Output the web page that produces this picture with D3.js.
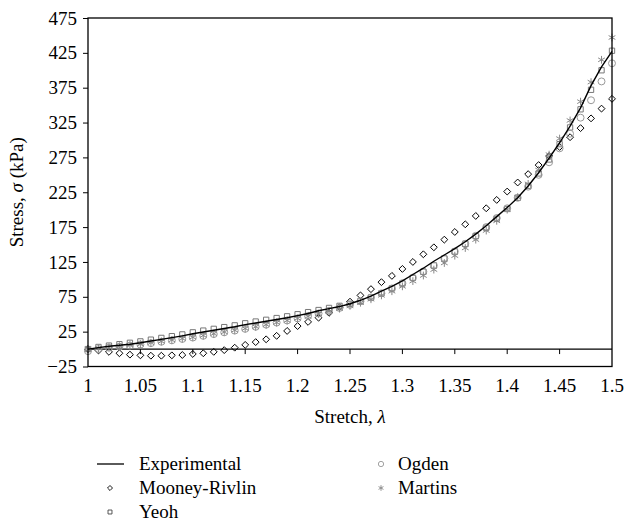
<!DOCTYPE html>
<html>
<head>
<meta charset="utf-8">
<script src="https://cdn.jsdelivr.net/npm/d3@7"></script>
<style>
  body { margin: 0; background: #fff; }
</style>
</head>
<body>
<div id="chart"></div>
<script>
// stretch values (lambda) shared by every series
const stretch = [1.00, 1.01, 1.02, 1.03, 1.04, 1.05, 1.06, 1.07, 1.08, 1.09,
  1.10, 1.11, 1.12, 1.13, 1.14, 1.15, 1.16, 1.17, 1.18, 1.19,
  1.20, 1.21, 1.22, 1.23, 1.24, 1.25, 1.26, 1.27, 1.28, 1.29,
  1.30, 1.31, 1.32, 1.33, 1.34, 1.35, 1.36, 1.37, 1.38, 1.39,
  1.40, 1.41, 1.42, 1.43, 1.44, 1.45, 1.46, 1.47, 1.48, 1.49, 1.50];

// stress in kPa
const experimental = [0, 2, 4, 5.5, 7, 9, 11.5, 14, 16.5, 19,
  22, 24.5, 27, 29.5, 32, 35, 37.5, 40, 42.5, 45,
  48, 51, 55, 58, 61, 65, 70, 76, 83, 90,
  98, 107, 116, 126, 135, 144, 154, 165, 177, 190,
  203, 217, 234, 253, 274, 296, 320, 346, 378, 405, 427];

const mooneyRivlin = [0, -2, -4, -6, -8, -9, -9.5, -9.5, -9, -8.5,
  -7, -6, -4, -1.5, 2, 6, 10, 14, 19, 26,
  33, 39, 45, 52, 60, 68, 77, 86, 96, 105,
  115, 125, 136, 146, 157, 168, 179, 191, 202, 214,
  226, 239, 251, 264, 277, 290, 304, 317, 331, 345, 359];

const yeoh = [0, 3, 5, 7, 9, 11, 13.5, 16, 18.5, 21,
  24, 26.5, 29, 31.5, 34, 37, 39.5, 42, 44.5, 47,
  50, 53, 56, 59, 62, 65, 69, 74, 80, 87,
  94, 102, 111, 120, 130, 140, 151, 162, 174, 187,
  201, 217, 234, 252, 272, 294, 318, 344, 372, 400, 428];

const ogden = [-3, 0, 2, 3.5, 5, 6.5, 8.5, 10.5, 12.5, 14.5,
  16.5, 19, 21.5, 24, 26.5, 29, 32, 35, 38, 41,
  44, 47.5, 51, 55, 59, 63.5, 68.5, 74, 80, 87,
  94.5, 102.5, 111, 120, 130, 140, 151, 162.5, 175, 188,
  202, 217, 233, 250, 268, 288, 309, 332, 357, 384, 410];

const martins = [0, 1, 2.5, 4, 5.5, 7, 9, 11, 13, 15,
  17, 19.5, 22, 24.5, 27, 29.5, 32, 35, 38, 41,
  44, 47, 50.5, 54, 58, 62, 66.5, 71.5, 77, 83,
  90, 97.5, 105.5, 114, 123.5, 134, 145, 157, 170, 184,
  200, 218, 237, 257, 279, 302, 328, 355, 383, 415, 447];

const xTicks = [1, 1.05, 1.1, 1.15, 1.2, 1.25, 1.3, 1.35, 1.4, 1.45, 1.5];
const yTicks = [-25, 25, 75, 125, 175, 225, 275, 325, 375, 425, 475];

const FONT = '"Liberation Serif", serif';
const FS = 19;

const width = 625, height = 527;
const margin = { top: 18, right: 13, bottom: 160, left: 88 };

const svg = d3.select("#chart").append("svg")
  .attr("width", width)
  .attr("height", height);

const x = d3.scaleLinear().domain([1, 1.5]).range([margin.left, width - margin.right]);
const y = d3.scaleLinear().domain([-25, 475]).range([height - margin.bottom - 0.5, margin.top]);

// y axis ticks + labels
svg.append("g")
  .attr("transform", `translate(${margin.left},0)`)
  .call(d3.axisLeft(y).tickValues(yTicks).tickSize(5).tickPadding(6)
    .tickFormat(d => d < 0 ? "\u221225" : d))
  .call(g => g.select(".domain").remove())
  .call(g => g.selectAll("line").attr("stroke", "#000"))
  .call(g => g.selectAll("text").attr("fill", "#000")
    .attr("font-family", FONT).attr("font-size", FS));

// x tick labels under the frame
svg.append("g")
  .selectAll("text")
  .data(xTicks)
  .join("text")
  .attr("x", d => x(d))
  .attr("y", y(-25) + 25)
  .attr("text-anchor", "middle")
  .attr("font-family", FONT)
  .attr("font-size", FS)
  .text(d => d);

// zero line with its ticks hanging down
svg.append("line")
  .attr("x1", x(1)).attr("x2", x(1.5))
  .attr("y1", y(0)).attr("y2", y(0))
  .attr("stroke", "#000").attr("stroke-width", 1.2);

svg.append("g")
  .selectAll("line")
  .data(xTicks.slice(1, -1))
  .join("line")
  .attr("x1", d => x(d)).attr("x2", d => x(d))
  .attr("y1", y(0)).attr("y2", y(0) + 5)
  .attr("stroke", "#000");

// markers
const pts = arr => arr.map((v, i) => [stretch[i], v]);

const marks = svg.append("g");

marks.selectAll(".mr")
  .data(pts(mooneyRivlin))
  .join("path")
  .attr("transform", d => `translate(${x(d[0])},${y(d[1])})`)
  .attr("d", d3.symbol(d3.symbolDiamond2, 30))
  .attr("fill", "none").attr("stroke", "#000").attr("stroke-width", 1);

marks.selectAll(".yeoh")
  .data(pts(yeoh))
  .join("path")
  .attr("transform", d => `translate(${x(d[0])},${y(d[1])})`)
  .attr("d", d3.symbol(d3.symbolSquare2, 36))
  .attr("fill", "none").attr("stroke", "#777").attr("stroke-width", 1);

marks.selectAll(".ogden")
  .data(pts(ogden))
  .join("path")
  .attr("transform", d => `translate(${x(d[0])},${y(d[1])})`)
  .attr("d", d3.symbol(d3.symbolCircle, 38))
  .attr("fill", "none").attr("stroke", "#999").attr("stroke-width", 1);

marks.selectAll(".martins")
  .data(pts(martins))
  .join("path")
  .attr("transform", d => `translate(${x(d[0])},${y(d[1])})`)
  .attr("d", d3.symbol(d3.symbolAsterisk, 42))
  .attr("fill", "none").attr("stroke", "#888").attr("stroke-width", 1);

// experimental curve
svg.append("path")
  .datum(pts(experimental))
  .attr("fill", "none")
  .attr("stroke", "#000")
  .attr("stroke-width", 1.4)
  .attr("d", d3.line().x(d => x(d[0])).y(d => y(d[1])));

// frame
svg.append("rect")
  .attr("x", x(1)).attr("y", y(475))
  .attr("width", x(1.5) - x(1))
  .attr("height", y(-25) - y(475))
  .attr("fill", "none").attr("stroke", "#000").attr("stroke-width", 1.3);

// axis titles
const xt = svg.append("text")
  .attr("x", (x(1) + x(1.5)) / 2)
  .attr("y", y(-25) + 56)
  .attr("text-anchor", "middle")
  .attr("font-family", FONT)
  .attr("font-size", FS);
xt.append("tspan").text("Stretch, ");
xt.append("tspan").attr("font-style", "italic").text("\u03bb");

const yt = svg.append("text")
  .attr("transform", `translate(23,${(y(-25) + y(475)) / 2}) rotate(-90)`)
  .attr("text-anchor", "middle")
  .attr("font-family", FONT)
  .attr("font-size", FS);
yt.append("tspan").text("Stress, ");
yt.append("tspan").attr("font-style", "italic").text("\u03c3");
yt.append("tspan").text(" (kPa)");

// legend
const legend = svg.append("g");
const rows = [464, 488, 512];

legend.append("line")
  .attr("x1", 97).attr("x2", 124)
  .attr("y1", rows[0]).attr("y2", rows[0])
  .attr("stroke", "#000").attr("stroke-width", 1.3);
legend.append("path")
  .attr("transform", `translate(110,${rows[1]})`)
  .attr("d", d3.symbol(d3.symbolDiamond2, 16))
  .attr("fill", "none").attr("stroke", "#000").attr("stroke-width", 0.9);
legend.append("path")
  .attr("transform", `translate(110,${rows[2]})`)
  .attr("d", d3.symbol(d3.symbolSquare2, 20))
  .attr("fill", "none").attr("stroke", "#444").attr("stroke-width", 0.9);
legend.append("path")
  .attr("transform", `translate(381,${rows[0]})`)
  .attr("d", d3.symbol(d3.symbolCircle, 22))
  .attr("fill", "none").attr("stroke", "#999").attr("stroke-width", 0.9);
legend.append("path")
  .attr("transform", `translate(381,${rows[1]})`)
  .attr("d", d3.symbol(d3.symbolAsterisk, 22))
  .attr("fill", "none").attr("stroke", "#888").attr("stroke-width", 0.9);

const labels = [
  { t: "Experimental", x: 139, y: rows[0] },
  { t: "Mooney-Rivlin", x: 139, y: rows[1] },
  { t: "Yeoh", x: 139, y: rows[2] },
  { t: "Ogden", x: 398, y: rows[0] },
  { t: "Martins", x: 398, y: rows[1] }
];
legend.selectAll("text")
  .data(labels)
  .join("text")
  .attr("x", d => d.x)
  .attr("y", d => d.y + 6)
  .attr("font-family", FONT)
  .attr("font-size", FS)
  .text(d => d.t);
</script>
</body>
</html>
